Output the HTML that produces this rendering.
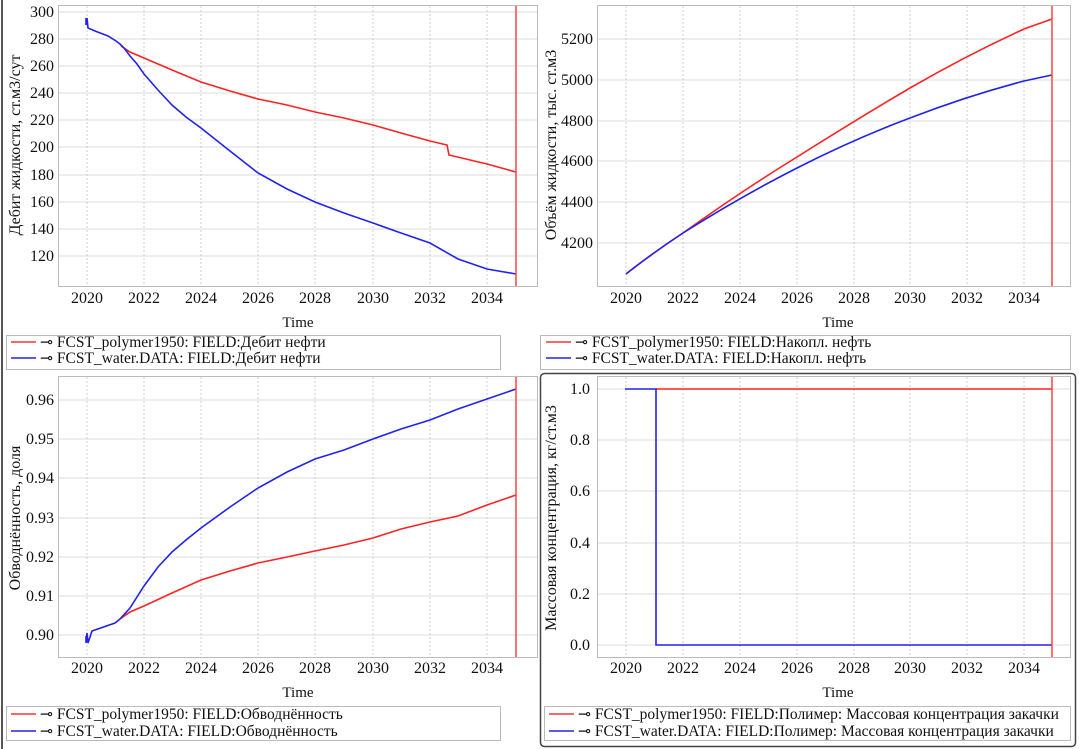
<!DOCTYPE html>
<html><head><meta charset="utf-8"><style>
body{margin:0;background:#fff;width:1079px;height:749px;overflow:hidden}
svg{display:block}
text{font-family:"Liberation Serif",serif;fill:#111}
.t{font-size:16px}
.lg{font-size:15.5px}
</style></head><body>
<svg width="1079" height="749" viewBox="0 0 1079 749" xmlns="http://www.w3.org/2000/svg">
<rect x="1" y="0" width="2" height="749" fill="#555"/>
<rect x="540.5" y="373.5" width="535" height="373" rx="4" fill="none" stroke="#444" stroke-width="1.5"/>

<!-- TL -->
<rect x="58.5" y="5.5" width="479" height="281" fill="none" stroke="#bbb"/>
<g stroke="#ddd"><line x1="59" x2="537" y1="12" y2="12"/><line x1="59" x2="537" y1="39" y2="39"/><line x1="59" x2="537" y1="66" y2="66"/><line x1="59" x2="537" y1="93" y2="93"/><line x1="59" x2="537" y1="120" y2="120"/><line x1="59" x2="537" y1="147" y2="147"/><line x1="59" x2="537" y1="175" y2="175"/><line x1="59" x2="537" y1="202" y2="202"/><line x1="59" x2="537" y1="229" y2="229"/><line x1="59" x2="537" y1="256" y2="256"/></g>
<g stroke="#ccc" stroke-dasharray="2,2"><line x1="87" x2="87" y1="6" y2="286"/><line x1="144" x2="144" y1="6" y2="286"/><line x1="201" x2="201" y1="6" y2="286"/><line x1="258" x2="258" y1="6" y2="286"/><line x1="315" x2="315" y1="6" y2="286"/><line x1="373" x2="373" y1="6" y2="286"/><line x1="430" x2="430" y1="6" y2="286"/><line x1="487" x2="487" y1="6" y2="286"/></g>
<g class="t" text-anchor="end"><text x="54" y="17">300</text><text x="54" y="44">280</text><text x="54" y="71">260</text><text x="54" y="98">240</text><text x="54" y="125">220</text><text x="54" y="152">200</text><text x="54" y="180">180</text><text x="54" y="207">160</text><text x="54" y="234">140</text><text x="54" y="261">120</text></g>
<g class="t" text-anchor="middle"><text x="87" y="303">2020</text><text x="144" y="303">2022</text><text x="201" y="303">2024</text><text x="258" y="303">2026</text><text x="315" y="303">2028</text><text x="373" y="303">2030</text><text x="430" y="303">2032</text><text x="487" y="303">2034</text><text x="298" y="327" font-size="15">Time</text></g>
<text class="t" transform="translate(20,145) rotate(-90)" text-anchor="middle">Дебит жидкости, ст.м3/сут</text>
<polyline fill="none" stroke="#f22" stroke-width="1.6" points="121,46 130,52 144,58 172,70 201,82 230,91 258,99 287,105 315,112 344,118 373,125 401,133 430,141 447,145 449,155 487,164 516,172"/>
<polyline fill="none" stroke="#22e" stroke-width="1.6" points="86,18 86,25 87,18 88,28 95,31 108,36 116,41 120,44 124,48 130,56 137,64 144,74 158,90 172,105 186,117 201,128 230,151 258,173 287,189 315,202 344,213 373,223 401,233 430,243 458,259 487,269 516,274"/>
<line x1="516" x2="516" y1="6" y2="286" stroke="#f44" stroke-width="1.5"/>
<rect x="6.5" y="335.5" width="494" height="34" fill="none" stroke="#bbb"/>
<line x1="11" x2="36" y1="342" y2="342" stroke="#f33" stroke-width="1.5"/><line x1="11" x2="36" y1="358" y2="358" stroke="#22e" stroke-width="1.5"/>
<text class="lg" x="40" y="347">⊸ FCST_polymer1950: FIELD:Дебит нефти</text>
<text class="lg" x="40" y="363">⊸ FCST_water.DATA: FIELD:Дебит нефти</text>

<!-- TR -->
<rect x="597.5" y="5.5" width="473" height="281" fill="none" stroke="#bbb"/>
<g stroke="#ddd"><line x1="598" x2="1070" y1="39" y2="39"/><line x1="598" x2="1070" y1="80" y2="80"/><line x1="598" x2="1070" y1="121" y2="121"/><line x1="598" x2="1070" y1="161" y2="161"/><line x1="598" x2="1070" y1="202" y2="202"/><line x1="598" x2="1070" y1="243" y2="243"/></g>
<g stroke="#ccc" stroke-dasharray="2,2"><line x1="626" x2="626" y1="6" y2="286"/><line x1="683" x2="683" y1="6" y2="286"/><line x1="740" x2="740" y1="6" y2="286"/><line x1="797" x2="797" y1="6" y2="286"/><line x1="854" x2="854" y1="6" y2="286"/><line x1="910" x2="910" y1="6" y2="286"/><line x1="967" x2="967" y1="6" y2="286"/><line x1="1024" x2="1024" y1="6" y2="286"/></g>
<g class="t" text-anchor="end"><text x="593" y="44">5200</text><text x="593" y="85">5000</text><text x="593" y="126">4800</text><text x="593" y="166">4600</text><text x="593" y="207">4400</text><text x="593" y="248">4200</text></g>
<g class="t" text-anchor="middle"><text x="626" y="303">2020</text><text x="683" y="303">2022</text><text x="740" y="303">2024</text><text x="797" y="303">2026</text><text x="854" y="303">2028</text><text x="910" y="303">2030</text><text x="967" y="303">2032</text><text x="1024" y="303">2034</text><text x="838" y="327" font-size="15">Time</text></g>
<text class="t" transform="translate(556,145) rotate(-90)" text-anchor="middle">Объём жидкости, тыс. ст.м3</text>
<path fill="none" stroke="#f22" stroke-width="1.6" d="M626,274 Q654,252 683,233 Q740,192 797,157 Q854,121 910,88 Q967,55 1024,29 L1052,19"/>
<path fill="none" stroke="#22e" stroke-width="1.6" d="M626,274 Q654,252 683,233 Q740,197 797,168 Q854,139 910,118 Q967,96 1024,81 L1052,75"/>
<line x1="1052" x2="1052" y1="6" y2="286" stroke="#f44" stroke-width="1.5"/>
<rect x="540.5" y="335.5" width="530" height="34" fill="none" stroke="#bbb"/>
<line x1="546" x2="571" y1="342" y2="342" stroke="#f33" stroke-width="1.5"/><line x1="546" x2="571" y1="358" y2="358" stroke="#22e" stroke-width="1.5"/>
<text class="lg" x="575" y="347">⊸ FCST_polymer1950: FIELD:Накопл. нефть</text>
<text class="lg" x="575" y="363">⊸ FCST_water.DATA: FIELD:Накопл. нефть</text>

<!-- BL -->
<rect x="58.5" y="376.5" width="479" height="281" fill="none" stroke="#bbb"/>
<g stroke="#ddd"><line x1="59" x2="537" y1="400" y2="400"/><line x1="59" x2="537" y1="439" y2="439"/><line x1="59" x2="537" y1="478" y2="478"/><line x1="59" x2="537" y1="518" y2="518"/><line x1="59" x2="537" y1="557" y2="557"/><line x1="59" x2="537" y1="596" y2="596"/><line x1="59" x2="537" y1="635" y2="635"/></g>
<g stroke="#ccc" stroke-dasharray="2,2"><line x1="87" x2="87" y1="377" y2="657"/><line x1="144" x2="144" y1="377" y2="657"/><line x1="201" x2="201" y1="377" y2="657"/><line x1="258" x2="258" y1="377" y2="657"/><line x1="315" x2="315" y1="377" y2="657"/><line x1="373" x2="373" y1="377" y2="657"/><line x1="430" x2="430" y1="377" y2="657"/><line x1="487" x2="487" y1="377" y2="657"/></g>
<g class="t" text-anchor="end"><text x="54" y="405">0.96</text><text x="54" y="444">0.95</text><text x="54" y="483">0.94</text><text x="54" y="523">0.93</text><text x="54" y="562">0.92</text><text x="54" y="601">0.91</text><text x="54" y="640">0.90</text></g>
<g class="t" text-anchor="middle"><text x="87" y="673">2020</text><text x="144" y="673">2022</text><text x="201" y="673">2024</text><text x="258" y="673">2026</text><text x="315" y="673">2028</text><text x="373" y="673">2030</text><text x="430" y="673">2032</text><text x="487" y="673">2034</text><text x="298" y="697" font-size="15">Time</text></g>
<text class="t" transform="translate(20,518) rotate(-90)" text-anchor="middle">Обводнённость, доля</text>
<polyline fill="none" stroke="#f22" stroke-width="1.6" points="120,619 130,612 144,606 172,593 201,580 230,571 258,563 287,557 315,551 344,545 373,538 401,529 430,522 458,516 487,505 516,495"/>
<polyline fill="none" stroke="#22e" stroke-width="1.6" points="86,636 86,643 87,633 88,643 92,631 115,623 120,619 130,608 144,586 158,567 172,552 186,540 201,528 230,507 258,488 287,472 315,459 344,450 373,439 401,429 430,420 458,409 487,399 516,389"/>
<line x1="516" x2="516" y1="377" y2="657" stroke="#f44" stroke-width="1.5"/>
<rect x="6.5" y="706.5" width="494" height="34" fill="none" stroke="#bbb"/>
<line x1="11" x2="36" y1="714" y2="714" stroke="#f33" stroke-width="1.5"/><line x1="11" x2="36" y1="731" y2="731" stroke="#22e" stroke-width="1.5"/>
<text class="lg" x="40" y="719">⊸ FCST_polymer1950: FIELD:Обводнённость</text>
<text class="lg" x="40" y="736">⊸ FCST_water.DATA: FIELD:Обводнённость</text>

<!-- BR -->
<rect x="597.5" y="376.5" width="473" height="281" fill="none" stroke="#bbb"/>
<g stroke="#ddd"><line x1="598" x2="1070" y1="389" y2="389"/><line x1="598" x2="1070" y1="440" y2="440"/><line x1="598" x2="1070" y1="491" y2="491"/><line x1="598" x2="1070" y1="543" y2="543"/><line x1="598" x2="1070" y1="594" y2="594"/><line x1="598" x2="1070" y1="645" y2="645"/></g>
<g stroke="#ccc" stroke-dasharray="2,2"><line x1="626" x2="626" y1="377" y2="657"/><line x1="683" x2="683" y1="377" y2="657"/><line x1="740" x2="740" y1="377" y2="657"/><line x1="797" x2="797" y1="377" y2="657"/><line x1="854" x2="854" y1="377" y2="657"/><line x1="910" x2="910" y1="377" y2="657"/><line x1="967" x2="967" y1="377" y2="657"/><line x1="1024" x2="1024" y1="377" y2="657"/></g>
<g class="t" text-anchor="end"><text x="590" y="394">1.0</text><text x="590" y="445">0.8</text><text x="590" y="496">0.6</text><text x="590" y="548">0.4</text><text x="590" y="599">0.2</text><text x="590" y="650">0.0</text></g>
<g class="t" text-anchor="middle"><text x="626" y="673">2020</text><text x="683" y="673">2022</text><text x="740" y="673">2024</text><text x="797" y="673">2026</text><text x="854" y="673">2028</text><text x="910" y="673">2030</text><text x="967" y="673">2032</text><text x="1024" y="673">2034</text><text x="838" y="697" font-size="15">Time</text></g>
<text class="t" transform="translate(556,518) rotate(-90)" text-anchor="middle">Массовая концентрация, кг/ст.м3</text>
<line x1="656" x2="1052" y1="389" y2="389" stroke="#f22" stroke-width="1.6"/>
<polyline fill="none" stroke="#22e" stroke-width="1.6" points="625,389 656,389 656,645 1052,645"/>
<line x1="1052" x2="1052" y1="377" y2="657" stroke="#f44" stroke-width="1.5"/>
<rect x="544.5" y="706.5" width="526" height="34" fill="none" stroke="#bbb"/>
<line x1="549" x2="574" y1="714" y2="714" stroke="#f33" stroke-width="1.5"/><line x1="549" x2="574" y1="731" y2="731" stroke="#22e" stroke-width="1.5"/>
<text class="lg" x="578" y="719">⊸ FCST_polymer1950: FIELD:Полимер: Массовая концентрация закачки</text>
<text class="lg" x="578" y="736">⊸ FCST_water.DATA: FIELD:Полимер: Массовая концентрация закачки</text>
</svg>
</body></html>
